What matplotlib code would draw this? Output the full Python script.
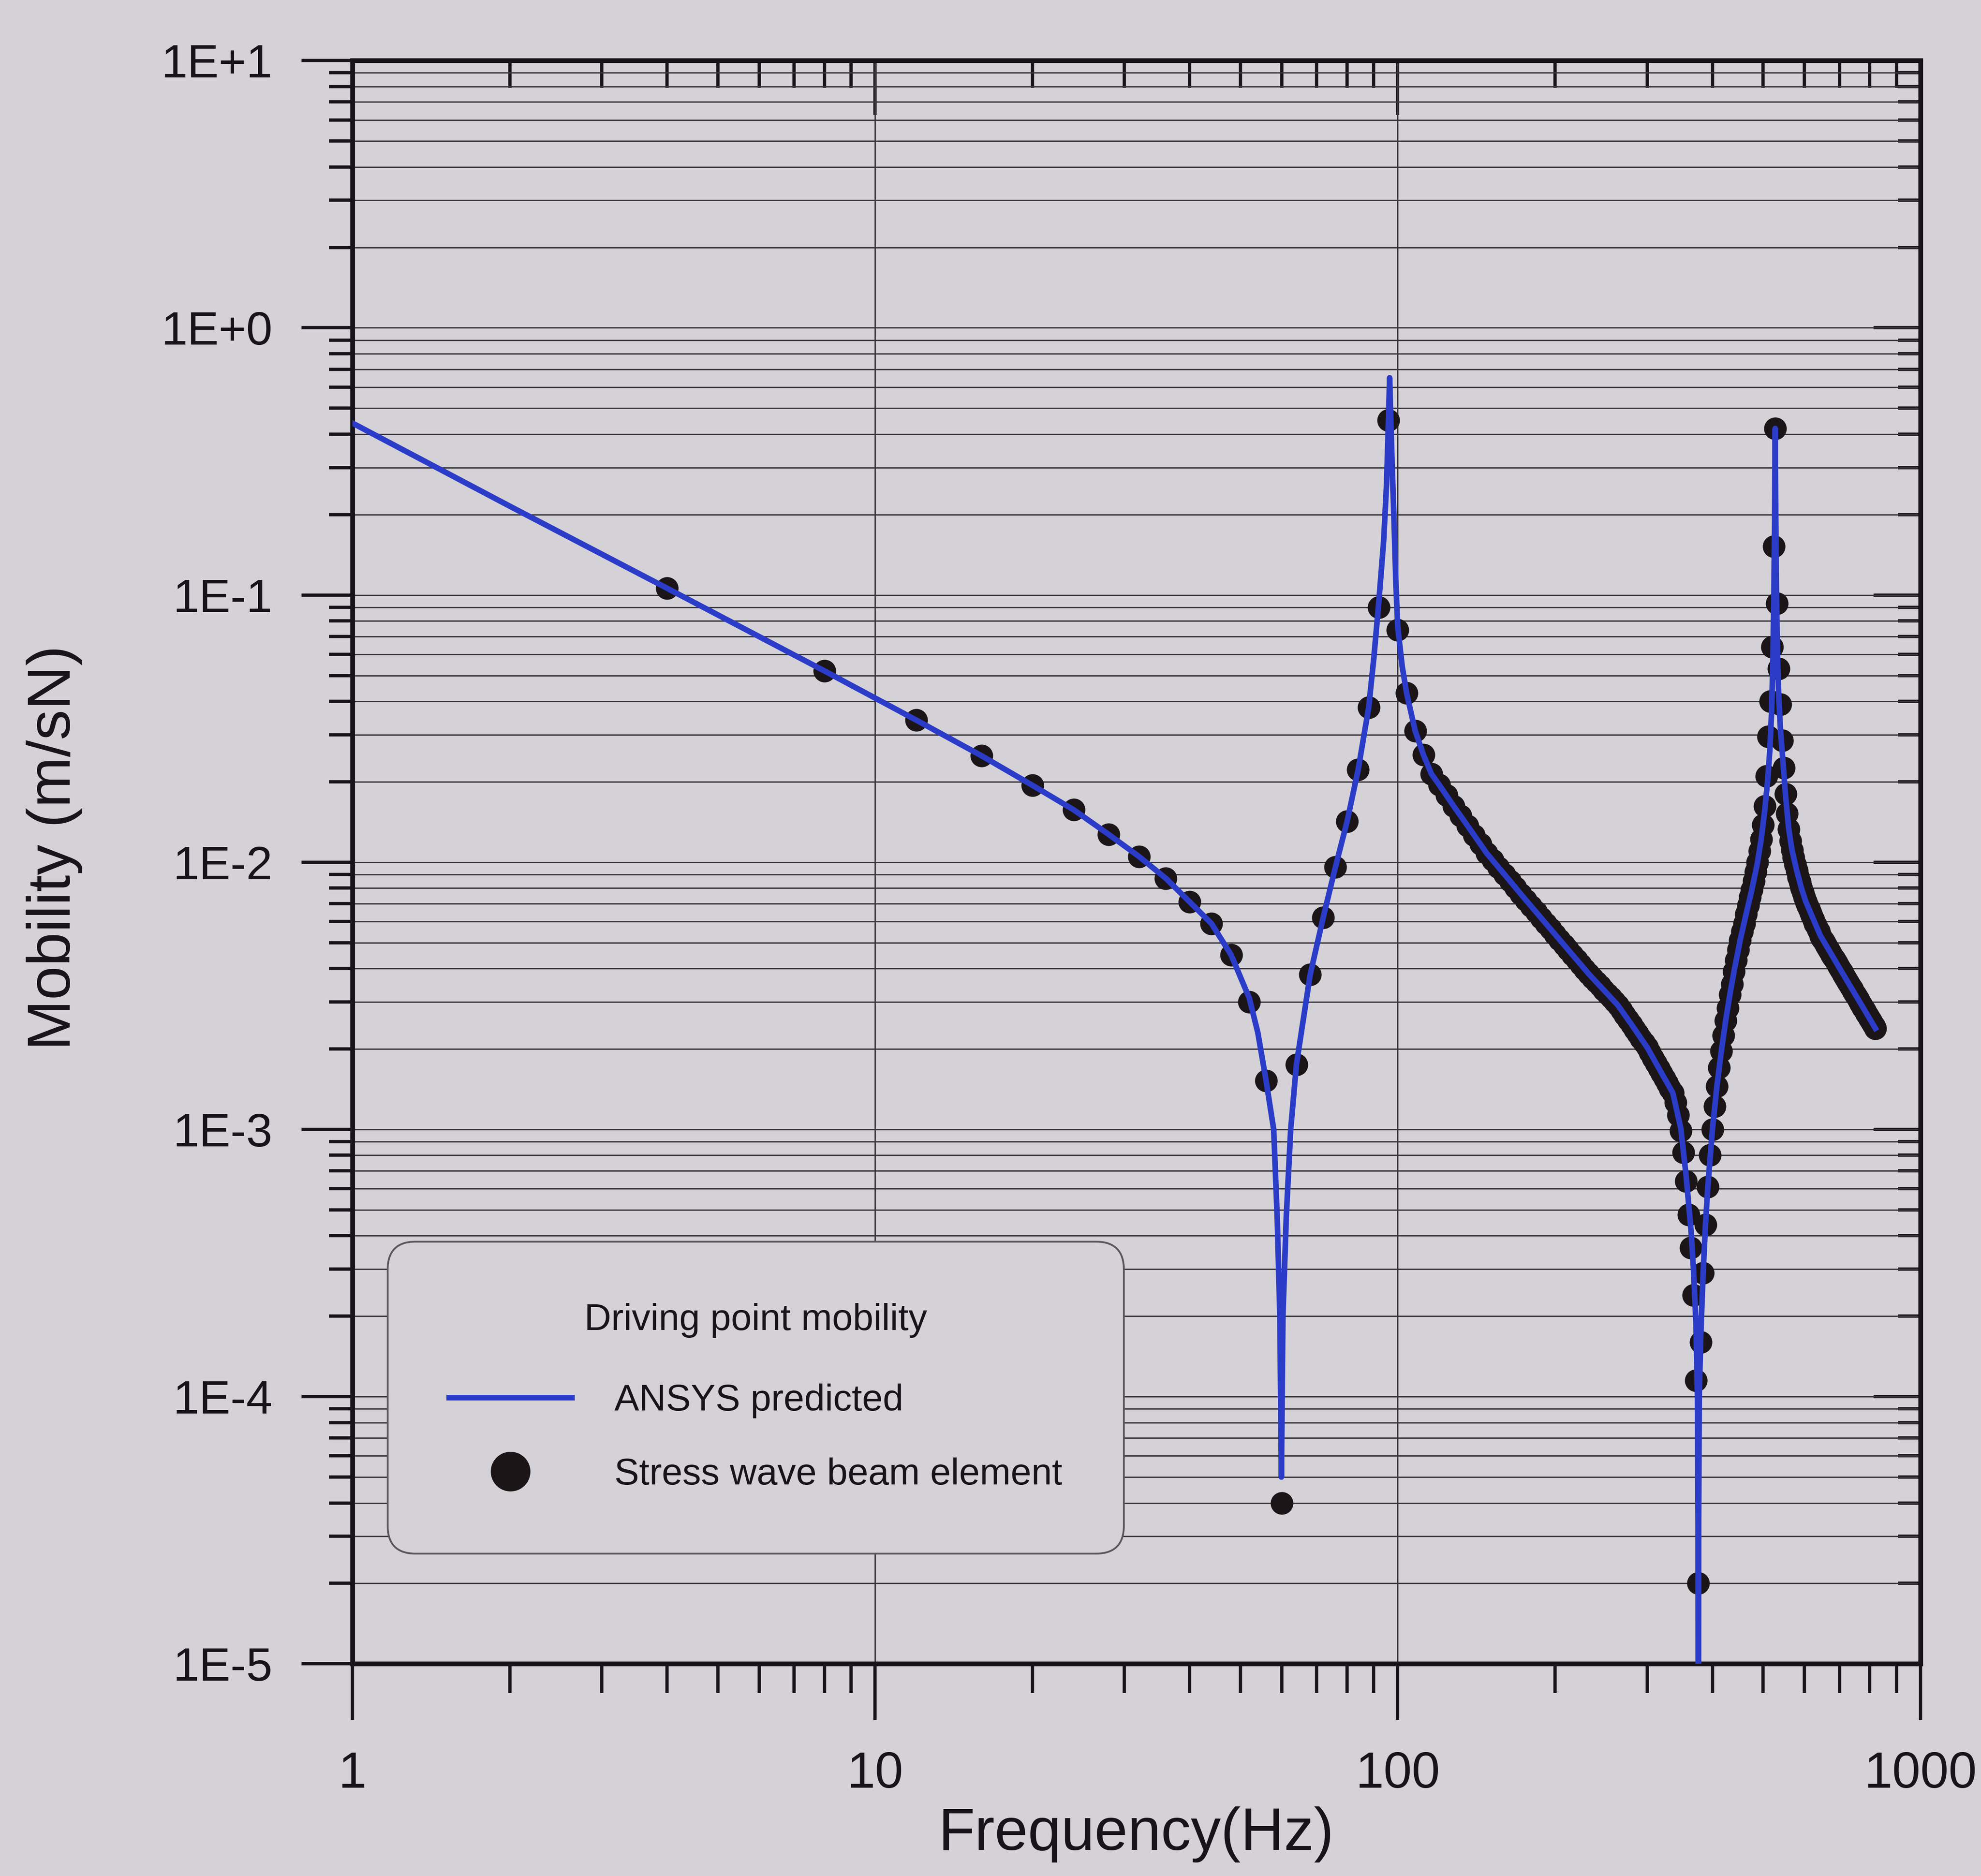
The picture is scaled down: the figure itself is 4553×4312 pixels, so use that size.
import matplotlib
matplotlib.use("Agg")
import matplotlib.pyplot as plt
from matplotlib.ticker import LogLocator, FixedLocator, FuncFormatter, NullFormatter
import numpy as np

# ---------------- data ----------------
# ANSYS predicted (blue line)
line_freq = [1, 2, 4, 8, 12, 16, 20, 24, 28, 32, 36, 40, 44, 48, 52, 54, 56,
             57.9, 58.8, 59.5, 59.9, 60.3, 61.2, 62.4, 64, 68, 72, 76, 80, 84, 88,
             90, 92, 94, 95.2, 96.0, 96.5, 97.0, 97.6, 98.3, 99.2, 100, 102, 104,
             108, 112, 116, 120, 128, 136, 148, 160, 172, 188, 200, 216, 232, 248,
             264, 280, 300, 320, 336, 348, 356, 364, 368, 372, 374.5, 375.5, 376,
             376.5, 377.5, 380, 384, 388, 392, 400, 408, 416, 424, 432, 440, 452,
             464, 476, 488, 496, 504, 510, 515, 519, 522, 524.5, 526.3, 527.5,
             528.7, 530.5, 533, 536, 540, 544, 548, 552, 560, 568, 580, 592, 604,
             620, 644, 668, 700, 740, 780, 820]
line_mob = [0.44, 0.215, 0.106, 0.052, 0.034, 0.025, 0.0194, 0.0157, 0.0127, 0.0105,
            0.0087, 0.0071, 0.0059, 0.0045, 0.0031, 0.0023, 0.00152,
            0.00100, 0.00047, 0.00020, 0.000050, 0.00020, 0.00047, 0.00100, 0.00175,
            0.0038, 0.0062, 0.0096, 0.0142, 0.0222, 0.038,
            0.058, 0.094, 0.16, 0.26, 0.45, 0.65, 0.45, 0.30, 0.20, 0.11, 0.076, 0.054,
            0.0429, 0.0310, 0.0252, 0.0214, 0.0195, 0.0162, 0.0137, 0.0108, 0.00901,
            0.00760, 0.00619, 0.00537, 0.00450, 0.00382, 0.00332, 0.00291, 0.00247,
            0.00203, 0.00162, 0.00137, 0.00101, 0.00068, 0.00042, 0.00030, 0.00019,
            0.00010, 0.000035, 0.000001, 0.000035, 0.00010, 0.00017, 0.00029, 0.00044,
            0.00061, 0.00100, 0.00145, 0.00196, 0.00255, 0.00320, 0.00390, 0.00510,
            0.00640, 0.00790, 0.0100, 0.0122, 0.0158, 0.020, 0.026, 0.036, 0.055, 0.10,
            0.20, 0.42, 0.20, 0.10, 0.058, 0.041, 0.031, 0.026, 0.0215, 0.0178, 0.0133,
            0.0111, 0.0093, 0.0080, 0.0071, 0.0063, 0.0053, 0.0047, 0.00402, 0.00335,
            0.00282, 0.00239]

# Stress wave beam element (black dots)
dot_freq = [4, 8, 12, 16, 20, 24, 28, 32, 36, 40, 44, 48, 52, 56, 60, 64, 68, 72, 76, 80, 84, 88, 92, 96, 100,
            104, 108, 112, 116, 120, 124, 128, 132, 136, 140, 144, 148, 152, 156, 160, 164, 168, 172, 176, 180, 184, 188, 192, 196, 200,
            204, 208, 212, 216, 220, 224, 228, 232, 236, 240, 244, 248, 252, 256, 260, 264, 268, 272, 276, 280, 284, 288, 292, 296, 300,
            304, 308, 312, 316, 320, 324, 328, 332, 336, 340, 344, 348, 352, 356, 360, 364, 368, 372, 376, 380, 384, 388, 392, 396, 400,
            404, 408, 412, 416, 420, 424, 428, 432, 436, 440, 444, 448, 452, 456, 460, 464, 468, 472, 476, 480, 484, 488, 492, 496, 500,
            504, 508, 512, 516, 520, 524, 528, 532, 536, 540, 544, 548, 552, 556, 560, 564, 568, 572, 576, 580, 584, 588, 592, 596, 600,
            604, 608, 612, 616, 620, 624, 628, 632, 636, 640, 644, 648, 652, 656, 660, 664, 668, 672, 676, 680, 684, 688, 692, 696, 700,
            704, 708, 712, 716, 720, 724, 728, 732, 736, 740, 744, 748, 752, 756, 760, 764, 768, 772, 776, 780, 784, 788, 792, 796, 800,
            804, 808, 812, 816, 820]
dot_mob = [0.106, 0.052, 0.034, 0.025, 0.0194, 0.0157, 0.0127, 0.0105, 0.0087, 0.0071, 0.0059, 0.0045, 0.0030,
           0.00152, 0.000040, 0.00175, 0.0038, 0.0062, 0.0096, 0.0142, 0.0222, 0.038, 0.090, 0.45, 0.074,
           0.0429, 0.0310, 0.0252, 0.0214, 0.0195, 0.0178, 0.0162, 0.0149, 0.0137, 0.0126, 0.0117, 0.0108, 0.0102,
           0.00956, 0.00901, 0.00850, 0.00803, 0.00760, 0.00721, 0.00685, 0.00651, 0.00619, 0.00590, 0.00563, 0.00537,
           0.00513, 0.00491, 0.00470, 0.00450, 0.00431, 0.00414, 0.00397, 0.00382, 0.00369, 0.00356, 0.00344, 0.00332,
           0.00321, 0.00311, 0.00301, 0.00291, 0.00279, 0.00268, 0.00257, 0.00247, 0.00237, 0.00228, 0.00219, 0.00211, 0.00203,
           0.00194, 0.00185, 0.00177, 0.00169, 0.00162, 0.00155, 0.00149, 0.00142, 0.00137, 0.00126, 0.00113, 0.00099,
           0.00082, 0.00064, 0.00048, 0.00036, 0.00024, 0.000115, 0.000020, 0.00016, 0.00029, 0.00044, 0.00061, 0.00080, 0.00100,
           0.00122, 0.00145, 0.00170, 0.00196, 0.00225, 0.00255, 0.00285, 0.00320, 0.00350, 0.00390, 0.00430, 0.00470,
           0.00510, 0.00550, 0.00590, 0.00640, 0.00690, 0.00740, 0.00790, 0.00850, 0.00920, 0.0100, 0.0110, 0.0122, 0.0138,
           0.0162, 0.0210, 0.0295, 0.040, 0.064, 0.152, 0.42, 0.093, 0.053, 0.039, 0.0285, 0.0225, 0.0180, 0.0152, 0.0133,
           0.0120, 0.0111, 0.0104, 0.0098, 0.0093, 0.0088, 0.0084, 0.0080, 0.0077, 0.0074,
           0.0071, 0.0069, 0.0067, 0.0065, 0.0063, 0.0061, 0.0059, 0.0058, 0.0056, 0.0055, 0.0053, 0.00519, 0.00509,
           0.00499, 0.00489, 0.00479, 0.00470, 0.00461, 0.00452, 0.00443, 0.00434, 0.00426, 0.00418, 0.00410, 0.00402,
           0.00395, 0.00388, 0.00381, 0.00374, 0.00367, 0.00360, 0.00354, 0.00347, 0.00341, 0.00335, 0.00329, 0.00323,
           0.00318, 0.00312, 0.00307, 0.00302, 0.00296, 0.00291, 0.00286, 0.00282, 0.00277, 0.00272, 0.00268, 0.00263, 0.00259,
           0.00255, 0.00251, 0.00247, 0.00243, 0.00239]

x_ticks = [1, 10, 100, 1000]
x_tick_labels = ["1", "10", "100", "1000"]
y_ticks = [1e-5, 1e-4, 1e-3, 1e-2, 1e-1, 1e0, 1e1]
y_tick_labels = ["1E-5", "1E-4", "1E-3", "1E-2", "1E-1", "1E+0", "1E+1"]

legend_title = "Driving point mobility"
line_label = "ANSYS predicted"
dot_label = "Stress wave beam element"
x_label = "Frequency(Hz)"
y_label = "Mobility (m/sN)"

assert len(dot_freq) == len(dot_mob)
assert len(line_freq) == len(line_mob)

# ---------------- style ----------------
plt.rcParams['font.family'] = ['Liberation Sans', 'DejaVu Sans']
BG = '#d5d2d7'
INK = '#17131a'
BLUE = '#2b3cc8'
DOT = '#1b1517'
GRID = '#3a373d'

fig = plt.figure(figsize=(4553 / 300, 4312 / 300), dpi=300, facecolor=BG)
ax = fig.add_axes([0.1779, 0.1131, 0.7915, 0.8546], facecolor=BG)

ax.plot(line_freq, line_mob, color=BLUE, lw=3.1, zorder=4, label=line_label,
        solid_joinstyle='round')
ax.plot(dot_freq, dot_mob, linestyle='none', marker='o', ms=12.5, mew=0,
        color=DOT, zorder=3, label=dot_label)

ax.set_xscale('log')
ax.set_yscale('log')
ax.set_xlim(1, 1000)
ax.set_ylim(1e-5, 10)

ax.xaxis.set_major_locator(FixedLocator(x_ticks))
ax.xaxis.set_minor_locator(LogLocator(base=10, subs=np.arange(2, 10), numticks=100))
ax.xaxis.set_major_formatter(FuncFormatter(lambda v, p: x_tick_labels[x_ticks.index(v)] if v in x_ticks else ""))
ax.xaxis.set_minor_formatter(NullFormatter())

ax.yaxis.set_major_locator(FixedLocator(y_ticks))
ax.yaxis.set_minor_locator(LogLocator(base=10, subs=np.arange(2, 10), numticks=100))
ax.yaxis.set_major_formatter(FuncFormatter(
    lambda v, p: y_tick_labels[int(round(np.log10(v))) + 5] if 1e-5 <= v <= 10 else ""))
ax.yaxis.set_minor_formatter(NullFormatter())

ax.tick_params(axis='x', which='major', direction='out', length=31, width=1.8,
               pad=17, labelsize=28, colors=INK)
ax.tick_params(axis='x', which='minor', direction='out', length=16, width=1.8, colors=INK)
ax.tick_params(axis='y', which='major', direction='out', length=28, width=1.8,
               pad=16, labelsize=26, colors=INK)
ax.tick_params(axis='y', which='minor', direction='out', length=13, width=1.8, colors=INK)

ax.set_axisbelow(True)
ax.yaxis.grid(True, which='both', color=GRID, lw=0.75)
ax.xaxis.grid(True, which='major', color=GRID, lw=0.75)

for s in ax.spines.values():
    s.set_linewidth(2.6)
    s.set_color(INK)

# top and right ticks point inwards
secx = ax.secondary_xaxis('top')
secx.xaxis.set_major_locator(FixedLocator(x_ticks))
secx.xaxis.set_minor_locator(LogLocator(base=10, subs=np.arange(2, 10), numticks=100))
secx.xaxis.set_major_formatter(NullFormatter())
secx.xaxis.set_minor_formatter(NullFormatter())
secx.tick_params(which='major', direction='in', length=30, width=1.8, colors=INK)
secx.tick_params(which='minor', direction='in', length=15, width=1.8, colors=INK)
for s in secx.spines.values():
    s.set_linewidth(2.6)
    s.set_color(INK)

secy = ax.secondary_yaxis('right')
secy.yaxis.set_major_locator(FixedLocator(y_ticks))
secy.yaxis.set_minor_locator(LogLocator(base=10, subs=np.arange(2, 10), numticks=100))
secy.yaxis.set_major_formatter(NullFormatter())
secy.yaxis.set_minor_formatter(NullFormatter())
secy.tick_params(which='major', direction='in', length=26, width=1.8, colors=INK)
secy.tick_params(which='minor', direction='in', length=12.5, width=1.8, colors=INK)
for s in secy.spines.values():
    s.set_linewidth(2.6)
    s.set_color(INK)

ax.set_xlabel(x_label, fontsize=33, color=INK)
ax.xaxis.set_label_coords(0.5, -0.089)
ax.set_ylabel(y_label, fontsize=33.5, color=INK)
ax.yaxis.set_label_coords(-0.172, 0.509)

leg = ax.legend(loc='upper left', bbox_to_anchor=(0.0226, 0.2632), borderaxespad=0,
                title=legend_title, fontsize=20.5, title_fontsize=20.5, frameon=True,
                fancybox=True, borderpad=1.65, handlelength=3.3, handletextpad=1.15,
                labelspacing=1.06, markerscale=1.75, numpoints=1,
                facecolor=BG, edgecolor='#5a575c', framealpha=1.0)
# extra room between the title and the entries, as in the original
leg._legend_box.sep = 25.0
leg.get_frame().set_linewidth(1.0)
leg.get_frame().set_boxstyle('round,pad=0,rounding_size=0.75')
for t in leg.get_texts():
    t.set_color(INK)
leg.get_title().set_color(INK)

fig.savefig('out.png', dpi=300, facecolor=BG)
